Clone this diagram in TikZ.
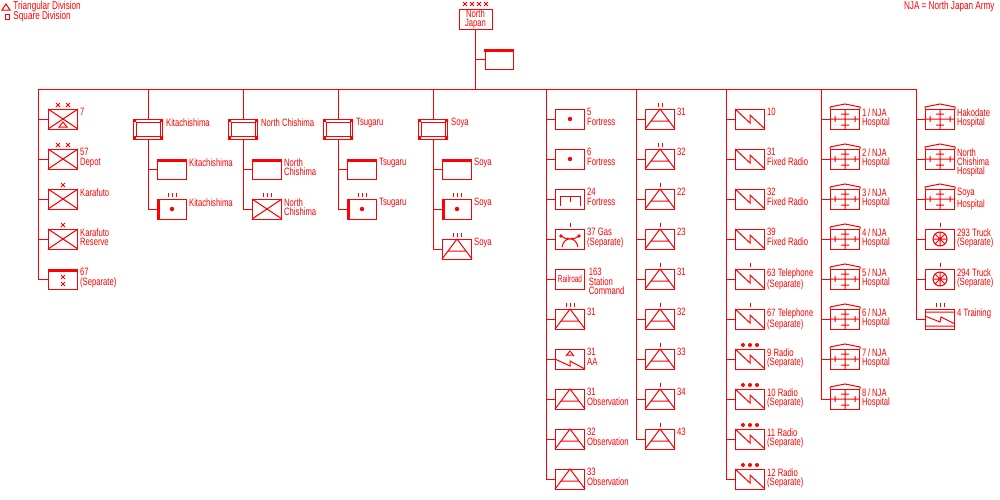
\documentclass[tikz,border=0pt]{standalone}
\usepackage{fontspec}
\setmainfont{Liberation Sans}[FakeStretch=0.72]
\usetikzlibrary{calc}
\definecolor{rd}{RGB}{255,0,0}
\tikzset{
 unit/.style={draw,minimum width=22pt,minimum height=15pt,inner sep=0,outer sep=0},
 lab/.style={anchor=north west,font=\fontsize{8}{6.9}\selectfont,inner sep=0,align=left},
 none/.pic={},
 xcross/.pic={\draw (-15,-10)--(15,10) (-15,10)--(15,-10);},
 tri/.pic={\draw (-4,8)--(0,3)--(4,8)--cycle;},
 dot/.pic={\fill (0,0) circle (2.2);},
 topbar/.pic={\fill (-15,-10) rectangle (15,-7);},
 lbar/.pic={\fill (-15,-10) rectangle (-12,10);},
 smallxx/.pic={\draw (-2,-4)--(2,0) (-2,0)--(2,-4) (-2,3)--(2,7) (-2,7)--(2,3);},
 arty/.pic={\draw (-15,10)--(0,-10)--(15,10) (-9,2)--(9,2);},
 signal/.pic={\draw (-15,-10)--(0,4)--(0,-4)--(15,10);},
 aa/.pic={\draw (-15,0)--(0,7)--(0,2)--(15,10) (-4,-3)--(0,-8)--(4,-3) (-3,-4)--(3,-4);},
 hosp/.pic={\draw (-15,-10)--(-15,-12)--(0,-15)--(15,-12)--(15,-10) (0,-10)--(0,10) (-15,0)--(15,0)
   (-10,-3)--(-10,3) (10,-3)--(10,3) (-4,-5)--(4,-5) (-4,6)--(4,6);},
 wheel/.pic={\draw (0,0) circle (7) (-7,0)--(7,0) (0,-7)--(0,7) (-5,-5)--(5,5) (-5,5)--(5,-5);},
 train/.pic={\draw (-15,-7)--(15,-7) (-15,7)--(15,7) (-15,-3)--(0,3)--(1,-2)--(15,5);},
 fort/.pic={\draw (-12,-7) rectangle (12,7);
   \fill (-15,-10) rectangle (-12,-7) (12,-10) rectangle (15,-7) (-15,7) rectangle (-12,10) (12,7) rectangle (15,10);},
 f24/.pic={\draw (-10,7)--(-10,-3)--(10,-3)--(10,7) (0,-3)--(0,3);},
 gas/.pic={\fill (-9,-3) circle (1.8) (9,-3) circle (1.8);
   \draw (-9,-3)..controls (-2,1)..(3,-1) (9,-3)..controls (2,1)..(-3,-1)
   (-8,8)..controls (-6,-3) and (6,-3)..(8,8);},
 rail/.pic={\node[inner sep=0,font=\fontsize{7.5}{7}\selectfont,xscale=0.9] (rt) at (0,0) {Railroad};},
 xx/.pic={\draw (-7,-16)--(-3,-12) (-7,-12)--(-3,-16) (3,-16)--(7,-12) (3,-12)--(7,-16);},
 x1/.pic={\draw (-2,-16)--(2,-12) (-2,-12)--(2,-16);},
 III/.pic={\draw (-4,-16)--(-4,-12) (0,-16)--(0,-12) (4,-16)--(4,-12);},
 II/.pic={\draw (-2,-16)--(-2,-12) (2,-16)--(2,-12);},
 I/.pic={\draw (0,-16)--(0,-12);},
 dots/.pic={\fill (-7,-14) circle (2) (0,-14) circle (2) (7,-14) circle (2);},
}
% #1 name, #2 trunk coordinate, #3 x, #4 y, #5 pics, #6 label
\newcommand\U[6]{%
 \node[unit] (#1) at (#3,#4) {};
 \foreach \p in {#5} {\pic at (#1) {\p};}
 \node[lab] (#1l) at ($(#1.north east)+(2,-1)$) {#6};
 \draw (#2) |- (#1.west);}
% fortress group top: #1 index, #2 x, #3 label
\newcommand\F[3]{%
  \coordinate (g#1) at (#2,89);
  \node[unit] (f#1) at (#2,129) {};
  \pic at (f#1) {fort};
  \draw (g#1) -- (f#1.north);
  \node[lab] (f#1l) at ($(f#1.north east)+(3,-1)$) {#3};}
\begin{document}
\begin{tikzpicture}[x=0.75pt,y=-0.75pt,line width=0.75pt,rd]
\useasboundingbox (0,0) rectangle (1000,500);
% legend
\draw (2,10)--(6,4)--(10,10)--cycle;
\draw (5,14) rectangle (9,19);
\node[lab,anchor=west,font=\fontsize{8.5}{8}\selectfont] (lg1) at (13,7) {Triangular Division};
\node[lab,anchor=west,font=\fontsize{8.5}{8}\selectfont] (lg2) at (13,17) {Square Division};
\node[lab,anchor=east,font=\fontsize{8.5}{8}\selectfont] (nja) at (995,7) {NJA = North Japan Army};
% top
\node[draw,minimum width=24.75pt,minimum height=15pt,inner sep=0,align=center,font=\fontsize{8}{6.9}\selectfont] (nj) at (475.5,19) {North\\Japan};
\draw (463,2)--(467,6) (463,6)--(467,2) (470,2)--(474,6) (470,6)--(474,2) (477,2)--(481,6) (477,6)--(481,2) (484,2)--(488,6) (484,6)--(488,2);
\coordinate (jn) at (475.5,89);
\draw (nj.south) -- (jn);
\node[unit,minimum width=21pt] (hq) at (499,59) {};
\pic at (hq) {topbar};
\draw (475.5,59) -- (hq.west);
\draw (38,89) -- (916,89);
% left column
\coordinate (t0) at (38,89);
\U{a1}{t0}{63}{119}{xcross,tri,xx}{7}
\U{a2}{t0}{63}{159}{xcross,xx}{57\\Depot}
\U{a3}{t0}{63}{199}{xcross,x1}{Karafuto}
\U{a4}{t0}{63}{239}{xcross,x1}{Karafuto\\Reserve}
\U{a5}{t0}{63}{279}{topbar,smallxx}{67\\(Separate)}
% fortress groups
\F{1}{148}{Kitachishima}
\U{f1a}{f1.south}{172}{169}{topbar}{Kitachishima}
\U{f1b}{f1.south}{172}{209}{lbar,dot,III}{Kitachishima}
\F{2}{243}{North Chishima}
\U{f2a}{f2.south}{267}{169}{topbar}{North\\Chishima}
\U{f2b}{f2.south}{267}{209}{xcross,III}{North\\Chishima}
\F{3}{338}{Tsugaru}
\U{f3a}{f3.south}{362}{169}{topbar}{Tsugaru}
\U{f3b}{f3.south}{362}{209}{lbar,dot,III}{Tsugaru}
\F{4}{433}{Soya}
\U{f4a}{f4.south}{457}{169}{topbar}{Soya}
\U{f4b}{f4.south}{457}{209}{lbar,dot,III}{Soya}
\U{f4c}{f4.south}{457}{249}{arty,III}{Soya}
% column 1
\coordinate (c1) at (546,89);
\U{p1}{c1}{570}{119}{dot}{5\\Fortress}
\U{p2}{c1}{570}{159}{dot}{6\\Fortress}
\U{p3}{c1}{570}{199}{f24}{24\\Fortress}
\U{p4}{c1}{570}{239}{gas,I}{37 Gas\\(Separate)}
\U{p5}{c1}{570}{279}{rail}{\,163\\\,Station\\\,Command}
\U{p6}{c1}{570}{319}{arty,III}{31}
\U{p7}{c1}{570}{359}{aa}{31\\AA}
\U{p8}{c1}{570}{399}{arty}{31\\Observation}
\U{p9}{c1}{570}{439}{arty}{32\\Observation}
\U{p10}{c1}{570}{479}{arty}{33\\Observation}
% column 2
\coordinate (c2) at (636,89);
\U{q1}{c2}{660}{119}{arty,II}{31}
\U{q2}{c2}{660}{159}{arty,II}{32}
\U{q3}{c2}{660}{199}{arty,I}{22}
\U{q4}{c2}{660}{239}{arty,I}{23}
\U{q5}{c2}{660}{279}{arty,I}{31}
\U{q6}{c2}{660}{319}{arty,I}{32}
\U{q7}{c2}{660}{359}{arty,I}{33}
\U{q8}{c2}{660}{399}{arty,I}{34}
\U{q9}{c2}{660}{439}{arty,I}{43}
% column 3
\coordinate (c3) at (726,89);
\U{r1}{c3}{750}{119}{signal}{10}
\U{r2}{c3}{750}{159}{signal}{31\\Fixed Radio}
\U{r3}{c3}{750}{199}{signal}{32\\Fixed Radio}
\U{r4}{c3}{750}{239}{signal}{39\\Fixed Radio}
\U{r5}{c3}{750}{279}{signal,I}{63 Telephone\\(Separate)}
\U{r6}{c3}{750}{319}{signal,I}{67 Telephone\\(Separate)}
\U{r7}{c3}{750}{359}{signal,dots}{9 Radio\\(Separate)}
\U{r8}{c3}{750}{399}{signal,dots}{10 Radio\\(Separate)}
\U{r9}{c3}{750}{439}{signal,dots}{11 Radio\\(Separate)}
\U{r10}{c3}{750}{479}{signal,dots}{12 Radio\\(Separate)}
% column 4
\coordinate (c4) at (821,89);
\foreach \k in {1,...,8} {\U{s\k}{c4}{845}{79+40*\k}{hosp}{\k\,/\,NJA\\Hospital}}
% column 5
\coordinate (c5) at (916,89);
\U{u1}{c5}{940}{119}{hosp}{Hakodate\\Hospital}
\U{u2}{c5}{940}{159}{hosp}{North\\Chishima\\Hospital}
\U{u3}{c5}{940}{199}{hosp}{Soya\\Hospital}
\U{u4}{c5}{940}{239}{wheel,I}{293 Truck\\(Separate)}
\U{u5}{c5}{940}{279}{wheel,I}{294 Truck\\(Separate)}
\U{u6}{c5}{940}{319}{train,III}{4 Training}
\end{tikzpicture}
\end{document}
